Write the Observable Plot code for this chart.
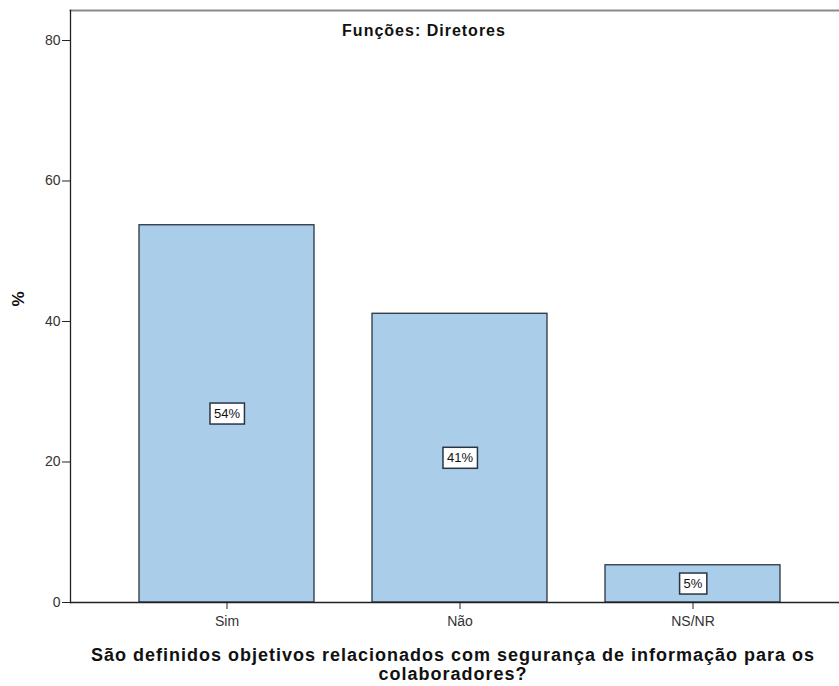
<!DOCTYPE html>
<html><head><meta charset="utf-8">
<script src="https://cdn.jsdelivr.net/npm/d3@7"></script>
<script src="https://cdn.jsdelivr.net/npm/@observablehq/plot@0.6"></script>
<style>body{margin:0;background:#fff;} svg{display:block}</style>
</head><body><div id="chart"></div>
<script>
const categories = ["Sim", "Não", "NS/NR"];
const values = [53.7, 41.1, 5.3];
const valueLabels = ["54%", "41%", "5%"];
const yTicks = [0, 20, 40, 60, 80];
const title = "Funções: Diretores";
const xTitle = "São definidos objetivos relacionados com segurança de informação para os\ncolaboradores?";
const yTitle = "%";

const data = categories.map((c, i) => ({category: c, value: values[i], label: valueLabels[i]}));

const chart = Plot.plot({
  width: 839, height: 686,
  marginTop: 10, marginBottom: 84, marginLeft: 70, marginRight: 0,
  style: {fontFamily: "'Liberation Sans', Arial, sans-serif", fontSize: "12px", background: "#fff", color: "#222"},
  x: {domain: categories, paddingInner: 0.25, paddingOuter: 0.271, align: 0.537, label: null},
  y: {domain: [0, 84.27], label: null},
  marks: [
    Plot.frame({anchor: "top", stroke: "#8a8a8a", strokeWidth: 2}),
    Plot.barY(data, {x: "category", y: "value", fill: "#aacde9", stroke: "#2b3542", strokeWidth: 1.3}),
    Plot.frame({anchor: "left", stroke: "#222", strokeWidth: 1.3}),
    Plot.ruleY([0], {stroke: "#222", strokeWidth: 1.3}),
    Plot.axisY({ticks: yTicks, tickSize: 8, tickPadding: 2, stroke: "#222", fill: "#333", fontSize: 14, label: null}),
    Plot.axisX({tickSize: 7, tickPadding: 7, stroke: "#222", fill: "#333", fontSize: 14, label: null}),
    Plot.text(data, {x: "category", y: d => d.value / 2, text: "label", fontSize: 13, fill: "#111"}),
    Plot.text([title], {frameAnchor: "top", lineAnchor: "top", dy: 14, dx: -31, fontSize: 16, fontWeight: "bold", fill: "#111"}),
    Plot.text([xTitle], {frameAnchor: "bottom", lineAnchor: "top", dy: 44, dx: -2, fontSize: 18, fontWeight: "bold", lineHeight: 1.1, fill: "#111"}),
    Plot.text([yTitle], {frameAnchor: "left", dx: -52, rotate: -90, fontSize: 17, fontWeight: "bold", fill: "#111"})
  ]
});
document.getElementById("chart").appendChild(chart);

const textGroups = d3.select(chart).selectAll('g[aria-label="text"]').nodes();
// letter spacing for the titles
d3.select(textGroups[1]).selectAll("text").style("letter-spacing", "1px");
d3.select(textGroups[2]).selectAll("text").style("letter-spacing", "1px");

// white boxes behind value labels
d3.select(textGroups[0]).selectAll("text").each(function() {
  const b = this.getBBox();
  const r = document.createElementNS("http://www.w3.org/2000/svg", "rect");
  r.setAttribute("x", b.x - 4);
  r.setAttribute("y", b.y - 3);
  r.setAttribute("width", b.width + 8);
  r.setAttribute("height", b.height + 6);
  r.setAttribute("fill", "#fff");
  r.setAttribute("stroke", "#2b3542");
  r.setAttribute("stroke-width", 1.5);
  const t = this.getAttribute("transform");
  if (t) r.setAttribute("transform", t);
  this.parentNode.insertBefore(r, this);
});
</script>
</body></html>
